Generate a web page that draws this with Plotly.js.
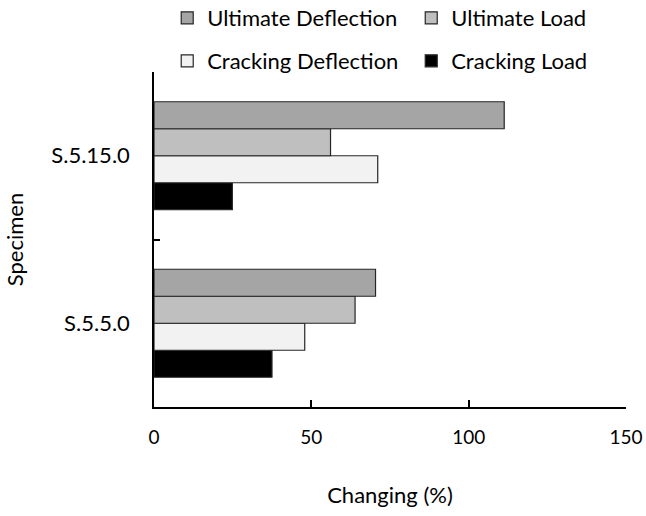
<!DOCTYPE html>
<html><head><meta charset="utf-8">
<script src="https://cdn.plot.ly/plotly-3.0.1.min.js"></script>
<style>html,body{margin:0;padding:0;background:#fff}</style>
</head><body><div id="chart" style="width:646px;height:516px"></div>
<script>
const specimens = ["S.5.5.0", "S.5.15.0"];
const ultimateDeflection = [70.4, 111.3];
const ultimateLoad = [63.9, 56.1];
const crackingDeflection = [47.9, 71.1];
const crackingLoad = [37.5, 24.9];
const xTicks = [0, 50, 100, 150];

const FONT = "Lato, 'Open Sans', sans-serif";
const line = {color: "#262626", width: 1.2};
function tr(name, vals, color, legend) {
  return {type: "bar", orientation: "h", name: name, x: vals, y: specimens,
    marker: {color: color, line: line}, legend: legend};
}
const data = [
  tr("Cracking Load", crackingLoad, "#000000", "legend4"),
  tr("Cracking Deflection", crackingDeflection, "#f2f2f2", "legend3"),
  tr("Ultimate Load", ultimateLoad, "#bfbfbf", "legend2"),
  tr("Ultimate Deflection", ultimateDeflection, "#a5a5a5", "legend")
];
function leg(xp, ypx) {
  return {orientation: "h", xref: "paper", yref: "container", x: xp, y: 1 - ypx/516,
    xanchor: "left", yanchor: "middle", font: {family: FONT, size: 22, color: "#000"},
    itemwidth: 30, bgcolor: "rgba(0,0,0,0)", borderwidth: 0};
}
const layout = {
  width: 646, height: 516,
  margin: {l: 154, r: 20, t: 72, b: 109, autoexpand: false},
  paper_bgcolor: "#fff", plot_bgcolor: "#fff",
  font: {family: FONT, size: 22, color: "#000"},
  barmode: "group", bargap: 0.355, bargroupgap: 0,
  showlegend: true,
  legend: leg(0.028, 18),
  legend2: leg(0.545, 18),
  legend3: leg(0.028, 61),
  legend4: leg(0.545, 61),
  xaxis: {range: [0, 150], tickvals: xTicks, ticks: "inside", ticklen: 7, tickwidth: 1.5,
    tickcolor: "#000", showline: true, linecolor: "#000", linewidth: 1.5, showgrid: false,
    zeroline: false, ticklabelstandoff: 12, tickfont: {family: FONT, size: 19},
    title: {text: "Changing (%)", font: {family: FONT, size: 22}, standoff: 41}},
  yaxis: {type: "category", range: [-0.5, 1.5], tickson: "boundaries", ticks: "inside", ticklen: 6, tickwidth: 1.5,
    tickcolor: "#000", showline: true, linecolor: "#000", linewidth: 1.5, showgrid: false,
    zeroline: false, ticklabelstandoff: 18, tickfont: {family: FONT, size: 22},
    title: {text: "Specimen", font: {family: FONT, size: 22}, standoff: 22}}
};
Plotly.newPlot("chart", data, layout, {displayModeBar: false});
</script></body></html>
